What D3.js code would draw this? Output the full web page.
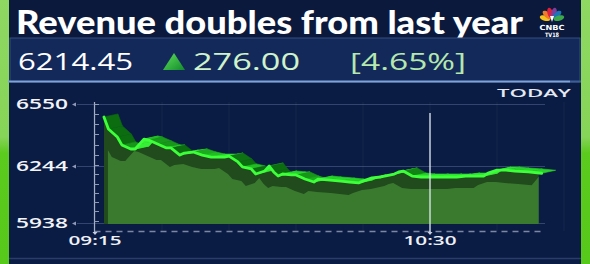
<!DOCTYPE html>
<html>
<head>
<meta charset="utf-8">
<script src="https://cdn.jsdelivr.net/npm/d3@7"></script>
<style>
    html, body { margin: 0; padding: 0; background: #0b1c42; overflow: hidden; }
    #root { width: 590px; height: 264px; }
</style>
</head>
<body>
<div id="root"></div>
<script>
// minutes after 09:15 and the index level
const minutes = [2, 3, 5, 6, 8, 9, 10, 11, 12, 14, 16, 17, 19, 20, 22, 24, 26, 29, 30, 32,
    33, 35, 36, 38, 39, 40, 41, 42, 44, 45, 47, 49, 50, 52, 55, 57, 59, 60, 62, 64,
    67, 68, 69, 71, 73, 76, 79, 81, 83, 86, 87, 88, 90, 92, 94, 97, 100];
const prices = [6486, 6427, 6387, 6348, 6328, 6328, 6353, 6377, 6372, 6353, 6333, 6333, 6298, 6308, 6313, 6298, 6288, 6288, 6293, 6264,
    6239, 6228, 6201, 6217, 6244, 6212, 6190, 6201, 6196, 6196, 6174, 6158, 6174, 6169, 6163, 6158, 6153, 6163, 6180, 6185,
    6201, 6212, 6217, 6190, 6185, 6185, 6185, 6185, 6190, 6190, 6190, 6206, 6222, 6222, 6217, 6212, 6205];
const yTicks = [5938, 6244, 6550];
const timeLabels = ['09:15', '10:30'];
const markerTime = '10:30';
const headline = 'Revenue doubles from last year';
const lastPrice = '6214.45';
const change = '276.00';
const changePct = '[4.65%]';
const feathers = ['#f5c21b', '#f07a2c', '#e0203b', '#7d3f98', '#1c74bb', '#3ba84a'];

const width = 590;
const height = 264;

const parse = d3.timeParse('%H:%M');
const start = parse(timeLabels[0]);

const x = d3.scaleTime()
    .domain([start, parse(timeLabels[1])])
    .range([95, 430]);
// the broadcast axis is slightly uneven, so a piecewise scale
const y = d3.scaleLinear()
    .domain(yTicks)
    .range([223, 166, 104]);

const base = y(yTicks[0]) + 1;
const pts = minutes.map((m, i) => [x(d3.timeMinute.offset(start, m)), y(prices[i])]);
const last = pts[pts.length - 1];
const top3d = [14, -3];
const front3d = [-10, 12];

const svg = d3.select('#root')
    .append('svg')
    .attr('width', width)
    .attr('height', height)
    .attr('viewBox', [0, 0, width, height]);

const defs = svg.append('defs');

const strip = defs.append('linearGradient')
    .attr('id', 'strip')
    .attr('x1', 0).attr('x2', 0).attr('y1', 0).attr('y2', 1);
strip.append('stop').attr('offset', '0%').attr('stop-color', '#8fd862');
strip.append('stop').attr('offset', '52%').attr('stop-color', '#86d458');
strip.append('stop').attr('offset', '58%').attr('stop-color', '#5bcb1e');
strip.append('stop').attr('offset', '100%').attr('stop-color', '#57c91a');

const tri = defs.append('linearGradient')
    .attr('id', 'tri')
    .attr('x1', 0).attr('x2', 1).attr('y1', 0).attr('y2', 1);
tri.append('stop').attr('offset', '0%').attr('stop-color', '#5fe05a');
tri.append('stop').attr('offset', '100%').attr('stop-color', '#128a2c');

defs.append('clipPath')
    .attr('id', 'clip-dark')
    .append('rect')
    .attr('x', pts[0][0]).attr('y', 0)
    .attr('width', last[0] - 3 - pts[0][0]).attr('height', height);

defs.append('clipPath')
    .attr('id', 'clip-front')
    .append('rect')
    .attr('x', pts[0][0] + 4).attr('y', 0)
    .attr('width', last[0] - 7 - pts[0][0]).attr('height', height);

// background panels
svg.append('rect')
    .attr('width', width).attr('height', height)
    .attr('fill', '#0b1c44');
svg.append('rect')
    .attr('width', width).attr('height', 38)
    .attr('fill', '#0a193c');
svg.append('line')
    .attr('x1', 0).attr('x2', width)
    .attr('y1', 258.5).attr('y2', 258.5)
    .attr('stroke', '#2a3d68')
    .attr('stroke-width', 1.5);

// side strips
svg.append('rect')
    .attr('x', 0).attr('y', 0).attr('width', 9).attr('height', height)
    .attr('fill', 'url(#strip)');
svg.append('rect')
    .attr('x', 581).attr('y', 0).attr('width', 9).attr('height', height)
    .attr('fill', 'url(#strip)');

// headline
svg.append('text')
    .attr('x', 16)
    .attr('y', 34)
    .attr('textLength', 507)
    .attr('lengthAdjust', 'spacingAndGlyphs')
    .style('font-family', 'Lato, "Open Sans", sans-serif')
    .style('font-weight', 900)
    .style('font-size', '32px')
    .attr('fill', '#ffffff')
    .text(headline);

// logo
const logo = svg.append('g').attr('transform', 'translate(552,20)');
logo.selectAll('ellipse')
    .data(feathers)
    .join('ellipse')
    .attr('rx', 2.7)
    .attr('ry', 5.4)
    .attr('transform', (d, i) => `rotate(${-75 + i * 30}) translate(0,-7.2)`)
    .attr('fill', d => d);
logo.append('path')
    .attr('d', 'M-2,-4 L2,-4 L0,2 Z')
    .attr('fill', '#ffffff');
logo.append('text')
    .attr('x', 0).attr('y', 9.5)
    .attr('text-anchor', 'middle')
    .attr('textLength', 25)
    .attr('lengthAdjust', 'spacingAndGlyphs')
    .style('font-family', '"DejaVu Sans", sans-serif')
    .style('font-weight', 700)
    .style('font-size', '7px')
    .attr('fill', '#ffffff')
    .text('CNBC');
logo.append('text')
    .attr('x', 0).attr('y', 16.5)
    .attr('text-anchor', 'middle')
    .attr('textLength', 14)
    .attr('lengthAdjust', 'spacingAndGlyphs')
    .style('font-family', '"DejaVu Sans", sans-serif')
    .style('font-weight', 700)
    .style('font-size', '6px')
    .attr('fill', '#ffffff')
    .text('TV18');

// quote box
svg.append('rect')
    .attr('x', 10).attr('y', 38)
    .attr('width', 570).attr('height', 44)
    .attr('fill', '#13295a')
    .attr('stroke', '#34507f')
    .attr('stroke-width', 1);
svg.append('line')
    .attr('x1', 8).attr('x2', 570)
    .attr('y1', 81.5).attr('y2', 81.5)
    .attr('stroke', '#7fa2d8')
    .attr('stroke-width', 2);
svg.append('line')
    .attr('x1', 570).attr('x2', 581)
    .attr('y1', 81.5).attr('y2', 81.5)
    .attr('stroke', '#3e5f95')
    .attr('stroke-width', 2);

const quoteFont = '"Open Sans", Lato, sans-serif';
svg.append('text')
    .attr('x', 18).attr('y', 69.5)
    .attr('textLength', 115)
    .attr('lengthAdjust', 'spacingAndGlyphs')
    .style('font-family', quoteFont)
    .style('font-size', '24.5px')
    .attr('fill', '#ffffff')
    .text(lastPrice);
svg.append('path')
    .attr('d', 'M174,53 L185,70 L163,70 Z')
    .attr('fill', 'url(#tri)');
svg.append('text')
    .attr('x', 193).attr('y', 69.5)
    .attr('textLength', 107)
    .attr('lengthAdjust', 'spacingAndGlyphs')
    .style('font-family', quoteFont)
    .style('font-size', '24.5px')
    .attr('fill', '#cff3ca')
    .text(change);
svg.append('text')
    .attr('x', 350).attr('y', 69.5)
    .attr('textLength', 116)
    .attr('lengthAdjust', 'spacingAndGlyphs')
    .style('font-family', quoteFont)
    .style('font-size', '24.5px')
    .attr('fill', '#b4e8ae')
    .text(changePct);

// TODAY
svg.append('text')
    .attr('x', 497).attr('y', 97)
    .attr('textLength', 74)
    .attr('lengthAdjust', 'spacingAndGlyphs')
    .style('font-family', quoteFont)
    .style('font-weight', 600)
    .style('font-size', '11.5px')
    .attr('fill', '#e4e8f0')
    .text('TODAY');

// grid
const plotRight = 545;
svg.append('g')
    .selectAll('line')
    .data(d3.timeMinute.every(15).range(start, d3.timeMinute.offset(start, 106)))
    .join('line')
    .attr('x1', d => x(d)).attr('x2', d => x(d))
    .attr('y1', 102).attr('y2', 231)
    .attr('stroke', '#ffffff')
    .attr('stroke-opacity', 0.05);

svg.append('g')
    .selectAll('line')
    .data(yTicks)
    .join('line')
    .attr('x1', 77).attr('x2', plotRight)
    .attr('y1', d => y(d) + 0.5).attr('y2', d => y(d) + 0.5)
    .attr('stroke', '#7f93bf')
    .attr('stroke-opacity', 0.35);

svg.append('g')
    .selectAll('path')
    .data(yTicks)
    .join('path')
    .attr('d', d => `M72,${y(d) + 0.5} L76,${y(d) - 1.5} L76,${y(d) + 2.5} Z`)
    .attr('fill', '#8e9ab8');

svg.append('g')
    .selectAll('text')
    .data(yTicks)
    .join('text')
    .attr('x', 68)
    .attr('y', d => y(d) + 5)
    .attr('text-anchor', 'end')
    .attr('textLength', 52)
    .attr('lengthAdjust', 'spacingAndGlyphs')
    .style('font-family', quoteFont)
    .style('font-weight', 600)
    .style('font-size', '14px')
    .attr('fill', '#f2f4f8')
    .text(d => d);

// chart body: dark front face, lighter fill, 3d top face, line
const area = d3.area()
    .x(d => d[0])
    .y0(base)
    .y1(d => d[1]);

svg.append('path')
    .datum(pts)
    .attr('clip-path', 'url(#clip-dark)')
    .attr('d', area)
    .attr('fill', '#214a1d');

const frontPts = [...pts.map(p => [p[0] + front3d[0], p[1] + front3d[1]]), last];
svg.append('path')
    .datum(frontPts)
    .attr('clip-path', 'url(#clip-front)')
    .attr('d', area)
    .attr('fill', '#3a7a2f');

const faceColor = d3.interpolateRgb('#2be42b', '#0c6c10');
const faces = d3.pairs(pts).map(([a, b]) => {
    const slope = (b[1] - a[1]) / (b[0] - a[0]);
    return {
        path: [a, b, [b[0] + top3d[0], b[1] + top3d[1]], [a[0] + top3d[0], a[1] + top3d[1]]],
        color: slope < 0 ? '#36f036' : faceColor(Math.min(1, slope / 0.7)),
    };
});
svg.append('g')
    .selectAll('path')
    .data(faces)
    .join('path')
    .attr('d', d => `M${d.path.join('L')}Z`)
    .attr('fill', d => d.color)
    .attr('stroke', d => d.color)
    .attr('stroke-width', 0.6);

svg.append('path')
    .datum(pts)
    .attr('d', d3.line())
    .attr('fill', 'none')
    .attr('stroke', '#3dff3a')
    .attr('stroke-width', 2.8)
    .attr('stroke-linejoin', 'round')
    .attr('stroke-linecap', 'round');

// axes
svg.append('line')
    .attr('x1', 94.5).attr('x2', 94.5)
    .attr('y1', 102).attr('y2', 233)
    .attr('stroke', '#a4b0c8')
    .attr('stroke-width', 1.2);

svg.append('g')
    .selectAll('line')
    .data(y.ticks(12))
    .join('line')
    .attr('x1', 94.5).attr('x2', 99)
    .attr('y1', d => Math.round(y(d)) + 0.5).attr('y2', d => Math.round(y(d)) + 0.5)
    .attr('stroke', '#8d9ab6')
    .attr('stroke-width', 1);

svg.append('line')
    .attr('x1', 94.5).attr('x2', plotRight)
    .attr('y1', 231.5).attr('y2', 231.5)
    .attr('stroke', '#a9b5cf')
    .attr('stroke-opacity', 0.7)
    .attr('stroke-width', 1.5)
    .attr('stroke-dasharray', '6,5');

svg.append('line')
    .attr('x1', x(parse(markerTime))).attr('x2', x(parse(markerTime)))
    .attr('y1', 113).attr('y2', 233)
    .attr('stroke', '#e8edf4')
    .attr('stroke-opacity', 0.85)
    .attr('stroke-width', 1.5);

svg.append('g')
    .selectAll('path')
    .data(timeLabels)
    .join('path')
    .attr('d', d => `M${x(parse(d)) - 2.5},232 L${x(parse(d)) + 2.5},232 L${x(parse(d))},235 Z`)
    .attr('fill', '#c8d0e0');

svg.append('g')
    .selectAll('text')
    .data(timeLabels)
    .join('text')
    .attr('x', d => x(parse(d)))
    .attr('y', 245)
    .attr('text-anchor', 'middle')
    .attr('textLength', 53)
    .attr('lengthAdjust', 'spacingAndGlyphs')
    .style('font-family', quoteFont)
    .style('font-weight', 600)
    .style('font-size', '13px')
    .attr('fill', '#eef1f6')
    .text(d => d);
</script>
</body>
</html>
